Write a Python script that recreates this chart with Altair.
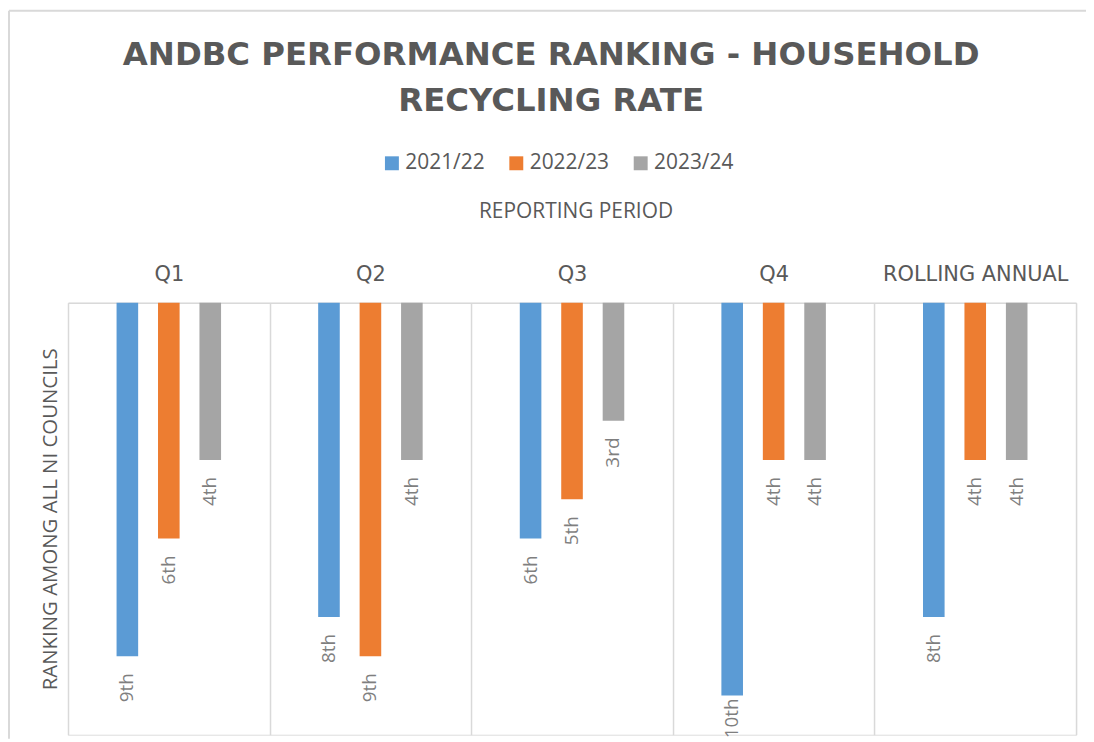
import altair as alt
import pandas as pd

periods = ["Q1", "Q2", "Q3", "Q4", "ROLLING ANNUAL"]
years = ["2021/22", "2022/23", "2023/24"]
rank_2021_22 = [9, 8, 6, 10, 8]
rank_2022_23 = [6, 9, 5, 4, 4]
rank_2023_24 = [4, 4, 3, 4, 4]
colors = ["#5b9bd5", "#ed7d31", "#a5a5a5"]


def ordinal(n):
    if 10 <= n % 100 <= 20:
        suf = "th"
    else:
        suf = {1: "st", 2: "nd", 3: "rd"}.get(n % 10, "th")
    return f"{n}{suf}"


rows = []
for yr, vals in zip(years, [rank_2021_22, rank_2022_23, rank_2023_24]):
    for p, v in zip(periods, vals):
        rows.append({"period": p, "year": yr, "rank": v, "label": ordinal(v)})
df = pd.DataFrame(rows)

FONT = "Open Sans"
WIDE = "DejaVu Sans"
TXT = "#595959"
BORDER = "#d9d9d9"
W, H = 1013, 434

x_enc = alt.X(
    "period:N",
    sort=periods,
    scale=alt.Scale(paddingInner=0, paddingOuter=0),
    axis=alt.Axis(
        orient="top",
        title="REPORTING PERIOD",
        tickBand="extent",
        grid=True,
        gridColor=BORDER,
        gridWidth=1.5,
        domain=True,
        domainColor=BORDER,
        domainWidth=1.5,
        ticks=False,
        tickSize=0,
        labelAngle=0,
        labelFont=WIDE,
        labelFontSize=21,
        labelColor=TXT,
        labelPadding=28,
        labelBaseline="middle",
        labelLimit=0,
        titleFont=FONT,
        titleFontSize=21,
        titleFontWeight="normal",
        titleColor=TXT,
        titleY=-91.5,
        titleX=510,
        titleBaseline="middle",
        titleAlign="center",
    ),
)
xoff_enc = alt.XOffset(
    "year:N", sort=years, scale=alt.Scale(paddingInner=0.136, paddingOuter=1)
)
y_enc = alt.Y(
    "rank:Q",
    scale=alt.Scale(domain=[0, 11], reverse=True, nice=False, zero=True),
    axis=alt.Axis(
        title="RANKING AMONG ALL NI COUNCILS",
        labels=False,
        ticks=False,
        domain=False,
        grid=False,
        titleFont=FONT,
        titleFontSize=20.5,
        titleFontWeight="normal",
        titleColor=TXT,
        titleAngle=270,
        titleX=-18,
        titleY=217,
        titleBaseline="middle",
        titleAlign="center",
    ),
)

bars = alt.Chart(df).mark_bar(width=21.7).encode(
    x=x_enc,
    xOffset=xoff_enc,
    y=y_enc,
    color=alt.Color(
        "year:N",
        scale=alt.Scale(domain=years, range=colors),
        legend=alt.Legend(
            orient="none",
            legendX=315,
            legendY=-151,
            direction="horizontal",
            columns=3,
            title=None,
            symbolType="square",
            symbolSize=196,
            symbolStrokeWidth=0,
            symbolOpacity=1,
            labelFont=FONT,
            labelFontSize=21,
            labelColor=TXT,
            labelOffset=3,
            columnPadding=21,
            padding=0,
        ),
    ),
)

label_style = dict(
    angle=270,
    align="right",
    baseline="middle",
    font=FONT,
    fontSize=19,
    color="#7f7f7f",
)

# labels below the bar end; the longest bar's label is tucked up to fit the chart area
labels_main = (
    alt.Chart(df)
    .transform_filter("datum.rank < 10")
    .mark_text(dx=-17, **label_style)
    .encode(x=x_enc, xOffset=xoff_enc, y=y_enc, text="label:N")
)
labels_fit = (
    alt.Chart(df)
    .transform_filter("datum.rank >= 10")
    .mark_text(dx=-3, **label_style)
    .encode(x=x_enc, xOffset=xoff_enc, y=y_enc, text="label:N")
)

# light chart-area border (top and left edges)
border_df = pd.DataFrame({"edge": ["top"]})
border_top = alt.Chart(border_df).mark_rule(color=BORDER, strokeWidth=2).encode(
    x=alt.value(-59.3), x2=alt.value(W + 10), y=alt.value(-293.5)
)
border_left = alt.Chart(border_df).mark_rule(color=BORDER, strokeWidth=2).encode(
    x=alt.value(-59.3), y=alt.value(-293.5), y2=alt.value(H + 4)
)

chart = (
    alt.layer(bars, labels_main, labels_fit, border_top, border_left)
    .properties(
        width=W,
        height=H,
        autosize=alt.AutoSizeParams(type="none"),
        padding={"left": 60.3, "top": 294.5, "right": 10, "bottom": 4},
        title=alt.Title(
            ["ANDBC PERFORMANCE RANKING - HOUSEHOLD", "RECYCLING RATE"],
            font=WIDE,
            fontSize=32.5,
            fontWeight="bold",
            color=TXT,
            lineHeight=47,
            anchor="middle",
            frame="group",
            dx=-21,
            dy=143.5,
            offset=35,
        ),
    )
    .configure_view(stroke=None)
    .configure(background="white")
)

chart.save("out.html", embed_options={"renderer": "svg", "actions": False})
